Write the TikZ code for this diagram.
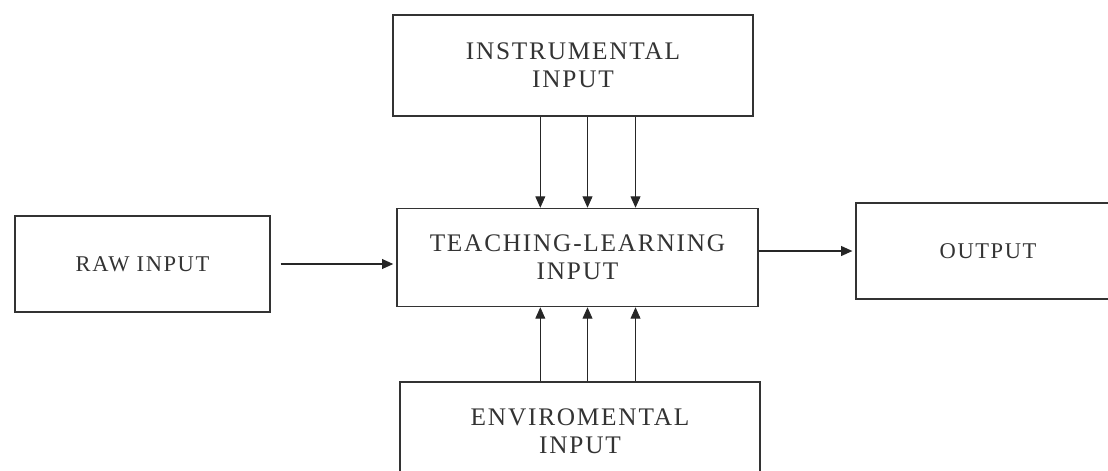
\documentclass[tikz,border=0pt]{standalone}
\usepackage{fontspec}
\setmainfont{Liberation Serif}[LetterSpace=7]
\usetikzlibrary{arrows.meta}

\begin{document}
\begin{tikzpicture}[
		x=0.025cm, y=-0.025cm,
		every node/.style={draw=black!80, text=black!80, line width=1.1pt, inner sep=0pt, align=center},
		blockbig/.style={font=\fontsize{18}{20}\selectfont},
		blocksmall/.style={font=\fontsize{16}{18}\selectfont},
		arr/.style={-{Triangle[length=8pt,width=7pt]}, black!85, line width=0.6pt}
		]
		\useasboundingbox (0,0) rectangle (1108,470);
		\clip (0,0) rectangle (1108,470);
		% boxes
		\node[blockbig, minimum width=9cm, minimum height=2.525cm] (instr) at (573,65.5) {INSTRUMENTAL\\INPUT};
		\node[blockbig, minimum width=9.03cm, minimum height=2.45cm] (teach) at (577.5,257.5) {TEACHING-LEARNING\\INPUT};
		\node[blockbig, minimum width=9cm, minimum height=2.45cm] (env) at (580,431) {ENVIROMENTAL\\INPUT};
		\node[blocksmall, minimum width=6.375cm, minimum height=2.4cm] (raw) at (142.5,264) {RAW INPUT};
		\node[blocksmall, minimum width=6.6cm, minimum height=2.4cm] (out) at (988,251) {OUTPUT};
		% connectors
		\draw[arr, line width=1pt, shorten <=7pt, shorten >=2pt] (raw.east) -- (raw.east -| teach.west);
		\draw[arr, line width=1pt, shorten >=2pt] (teach.east |- out.west) -- (out.west);
		\foreach \dx in {-0.93,0.25,1.45} {
			\draw[arr] ([xshift=\dx cm]teach.north |- instr.south) -- ([xshift=\dx cm]teach.north);
			\draw[arr] ([xshift=\dx cm]teach.south |- env.north) -- ([xshift=\dx cm]teach.south);
		}
	\end{tikzpicture}
\end{document}
